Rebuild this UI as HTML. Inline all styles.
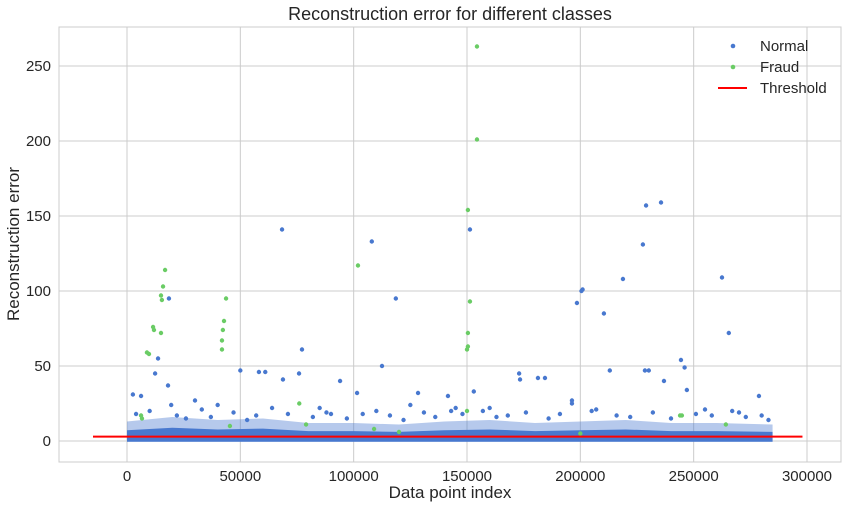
<!DOCTYPE html>
<html><head><meta charset="utf-8"><style>
body{margin:0;background:#fff;width:846px;height:508px;overflow:hidden}
svg{font-family:"Liberation Sans","DejaVu Sans",sans-serif}
</style></head><body>
<svg id="chart" width="846" height="508">
<rect x="59" y="27" width="782" height="435" fill="#fff" stroke="#cccccc"/>
<g id="grid"></g>
<g id="band"></g>
<g id="pts"></g>
<g id="axes"></g>
<text x="450" y="20" text-anchor="middle" font-size="18" fill="#262626">Reconstruction error for different classes</text>
<text x="450" y="498" text-anchor="middle" font-size="17" fill="#262626">Data point index</text>
<text transform="translate(19,244) rotate(-90)" text-anchor="middle" font-size="17" fill="#262626">Reconstruction error</text>
<g>
<g><circle cx="733" cy="46" r="2.3" fill="#4878cf"/><text x="760" y="51" font-size="15" fill="#262626">Normal</text></g>
<g><circle cx="733" cy="67" r="2.3" fill="#6acc65"/><text x="760" y="72" font-size="15" fill="#262626">Fraud</text></g>
<g><line x1="718" y1="88" x2="747" y2="88" stroke="#ff0000" stroke-width="2"/><text x="760" y="93" font-size="15" fill="#262626">Threshold</text></g>
</g>
</svg>
<script>
const xTicks=[0,50000,100000,150000,200000,250000,300000];
const yTicks=[0,50,100,150,200,250];
const threshold=2.9;
const thresholdRange=[-15000,298000];
const bandBins=[0,20000,40000,60000,80000,100000,120000,140000,160000,180000,200000,220000,240000,260000,284807];
const bandTop=[13,16,14,15,12,12,11,13,14,12,13,14,12,12,11];
const normalIdx=[68400,108000,151300,229000,235600,227600,262500,218800,201000,200500,198500,210400,265500,118600,18500,13700,77200,112500,50000,12400,58200,61000,244400,246000,247000,173000,173400,181300,184400,213000,228500,230200,94000,68800,75900,2600,6200,18100,141600,153000,101500,128400,278800,236900,196300,196300,30000,90000,125000,160000,205000,255000,270000,280000,40000,85000,
4000,10000,22000,26000,33000,37000,47000,53000,57000,64000,71000,82000,88000,97000,104000,110000,116000,122000,131000,136000,145000,148000,157000,163000,168000,176000,186000,191000,207000,216000,222000,232000,240000,251000,258000,267000,273000,283000,19500,143000];
const normalVal=[141,133,141,157,159,131,109,108,101,100,92,85,72,95,95,55,61,50,47,45,46,46,54,49,34,45,41,42,42,47,47,47,40,41,45,31,30,37,30,33,32,32,30,40,27,25,27,18,24,22,20,21,19,17,24,22,
18,20,17,15,21,16,19,14,17,22,18,16,19,15,18,20,17,14,19,16,22,18,20,16,17,19,15,18,21,17,16,19,15,18,17,20,16,14,24,20];
const fraudIdx=[154400,154400,150400,151300,150400,150400,150000,101900,16800,15900,15000,15400,11500,11900,15000,8800,9700,43700,42800,42300,41900,41900,6200,6600,244000,244800,76000,79000,45400,109000,264200,150000,200000,120000];
const fraudVal=[263,201,154,93,72,63,61,117,114,103,97,94,76,74,72,59,58,95,80,74,67,61,17,15,17,17,25,11,10,8,11,20,5,6];
const X=v=>127+v*680/300000, Y=v=>441-v*1.5;
const NS="http://www.w3.org/2000/svg";
function mk(t,a,p){const e=document.createElementNS(NS,t);for(const k in a)e.setAttribute(k,a[k]);p.appendChild(e);return e;}
const grid=document.getElementById('grid'),axes=document.getElementById('axes');
xTicks.forEach(t=>{const l=mk('line',{x1:X(t),x2:X(t),y1:27,y2:462,stroke:'#cccccc'},grid);


const tx=mk('text',{x:X(t),y:481,'text-anchor':'middle','font-size':15,fill:'#262626'},axes);tx.textContent=t;

});
yTicks.forEach(t=>{const l=mk('line',{x1:59,x2:841,y1:Y(t),y2:Y(t),stroke:'#cccccc'},grid);


const tx=mk('text',{x:51,y:Y(t)+5,'text-anchor':'end','font-size':15,fill:'#262626'},axes);tx.textContent=t;

});
const band=document.getElementById('band');
let d='M'+X(bandBins[0])+','+Y(-0.5);
bandBins.forEach((b,i)=>{d+=' L'+X(b)+','+Y(bandTop[i]);});
d+=' L'+X(bandBins[bandBins.length-1])+','+Y(-0.5)+' Z';
const bp=mk('path',{d:d,fill:'#4878cf','fill-opacity':0.4},band);


let d2='M'+X(bandBins[0])+','+Y(-0.5);
bandBins.forEach((b,i)=>{d2+=' L'+X(b)+','+Y(bandTop[i]*0.55);});
d2+=' L'+X(bandBins[bandBins.length-1])+','+Y(-0.5)+' Z';
const bc=mk('path',{d:d2,fill:'#4878cf'},band);


const pts=document.getElementById('pts');
normalIdx.forEach((v,i)=>{const c=mk('circle',{cx:X(v),cy:Y(normalVal[i]),r:2.2,fill:'#4878cf'},pts);

});
fraudIdx.forEach((v,i)=>{const c=mk('circle',{cx:X(v),cy:Y(fraudVal[i]),r:2.2,fill:'#6acc65'},pts);

});
const th=mk('line',{x1:X(thresholdRange[0]),x2:X(thresholdRange[1]),y1:Y(threshold),y2:Y(threshold),stroke:'#ff0000','stroke-width':2},pts);


</script>
</body></html>
